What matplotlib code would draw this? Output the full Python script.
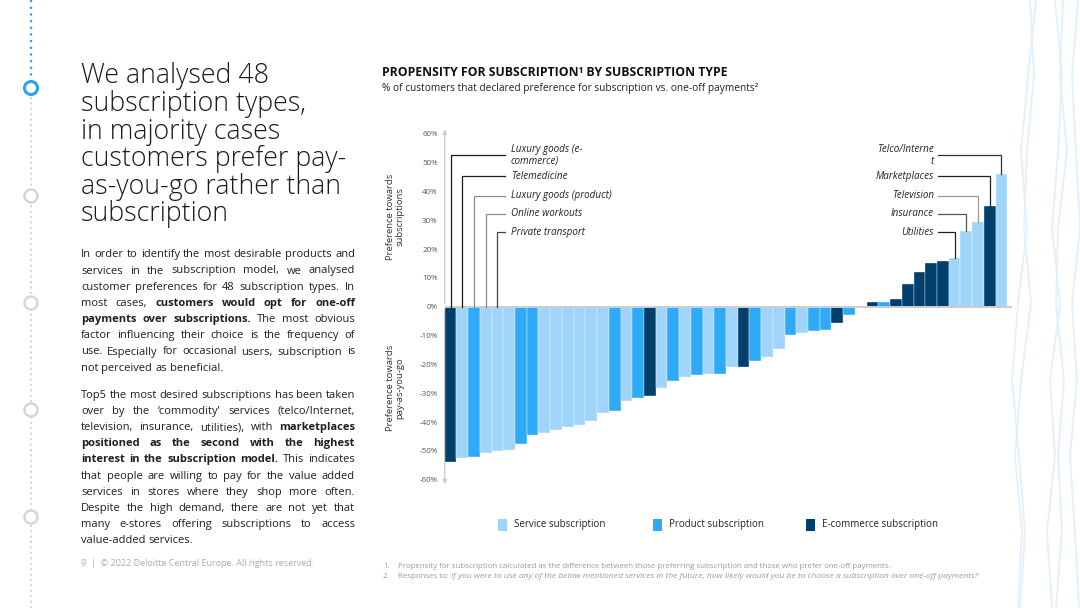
import matplotlib
matplotlib.use("Agg")
import matplotlib.pyplot as plt
from matplotlib.patches import Rectangle, Circle

# ---------------- data ----------------
values = [-54.0, -52.6, -52.2, -50.6, -50.1, -49.7, -47.5, -44.5, -43.9, -42.6,
          -41.8, -41.2, -39.5, -36.8, -36.1, -32.7, -31.5, -31.0, -28.2, -25.8,
          -24.5, -23.7, -23.5, -23.3, -21.0, -20.9, -19.0, -17.6, -14.8, -9.7,
          -9.0, -8.4, -8.1, -5.8, -2.9, 0.0, 1.5, 1.6, 2.6, 7.8,
          11.9, 15.0, 15.8, 16.8, 26.3, 29.3, 35.1, 46.0]
types = ["E", "S", "P", "S", "S", "S", "P", "P", "S", "S",
         "S", "S", "S", "S", "P", "S", "P", "E", "S", "P",
         "S", "P", "S", "P", "S", "E", "P", "S", "S", "P",
         "S", "P", "P", "E", "P", "S", "E", "P", "E", "E",
         "E", "E", "E", "S", "S", "S", "E", "S"]
categories = ["S", "P", "E"]
category_names = ["Service subscription", "Product subscription", "E-commerce subscription"]
yticks = [-60, -50, -40, -30, -20, -10, 0, 10, 20, 30, 40, 50, 60]
ytick_labels = [f"{t}%" for t in yticks]

left_labels = ["Luxury goods (e-\ncommerce)", "Telemedicine", "Luxury goods (product)",
               "Online workouts", "Private transport"]
left_idx = [0, 1, 2, 3, 4]
right_labels = ["Telco/Interne\nt", "Marketplaces", "Television", "Insurance", "Utilities"]
right_idx = [47, 46, 45, 44, 43]

# ---------------- style ----------------
colors = {"S": "#9fd5fb", "P": "#2eaaf7", "E": "#013f6d"}
W, H = 1080, 608
FONT = "Open Sans"
plt.rcParams["font.family"] = [FONT, "DejaVu Sans"]

fig = plt.figure(figsize=(W / 100, H / 100), dpi=100)
fig.patch.set_facecolor("white")
renderer = fig.canvas.get_renderer()


def fx(x):
    return x / W


def fy(y):
    return 1 - y / H


# ---------------- chart axes ----------------
px_per_unit = 2.883
y0 = 306.7
ymax, ymin = 62, -62
top_px = y0 - ymax * px_per_unit
bot_px = y0 - ymin * px_per_unit
bar_w_px = 11.72
left_px = 444.7
xmax = 47.9
right_px = left_px + (xmax + 0.5) * bar_w_px
ax = fig.add_axes([fx(left_px), fy(bot_px), (right_px - left_px) / W, (bot_px - top_px) / H])
ax.set_xlim(-0.5, xmax)
ax.set_ylim(ymin, ymax)
ax.patch.set_alpha(0)
for s in ax.spines.values():
    s.set_visible(False)

xs = list(range(len(values)))
ax.bar(xs, values, width=1.0, color=[colors[t] for t in types],
       edgecolor="white", linewidth=0.25, zorder=2)
ax.axhline(0, color="#cccccc", lw=1.4, zorder=3)

ax.set_yticks(yticks)
ax.set_yticklabels(ytick_labels, fontsize=5.8, color="#555555")
ax.tick_params(axis="y", length=0, pad=5)
ax.set_xticks([])

# y axis with arrows
for tip in (62.5, -62.5):
    ax.annotate("", xy=(-0.5, tip), xytext=(-0.5, 0),
                arrowprops=dict(arrowstyle="-|>", color="#cccccc", lw=1.0, mutation_scale=6),
                annotation_clip=False, zorder=1)


def px2x(px):
    return (px - left_px) / bar_w_px - 0.5


# leader labels
levels = [52.5, 45.3, 38.5, 32.2, 25.8]
left_line_colors = ["#1a1a1a", "#1a1a1a", "#8c8c8c", "#8c8c8c", "#444444"]
right_line_colors = ["#333333", "#222222", "#999999", "#555555", "#222222"]
for lab, i, lev, c in zip(left_labels, left_idx, levels, left_line_colors):
    v = values[i]
    base = 0 if v < 0 else v
    ax.plot([i, i, px2x(505)], [base, lev, lev], color=c, lw=0.9, zorder=4,
            solid_joinstyle="miter", clip_on=False)
    ax.text(px2x(511), lev, lab, ha="left", va="center", fontsize=7.1, style="italic",
            color="#222222", linespacing=1.05, family=FONT)
for lab, i, lev, c in zip(right_labels, right_idx, levels, right_line_colors):
    v = values[i]
    base = 0 if v < 0 else v
    ax.plot([px2x(938), i, i], [lev, lev, base], color=c, lw=0.9, zorder=4,
            solid_joinstyle="miter", clip_on=False)
    ax.text(px2x(934), lev, lab, ha="right", va="center", fontsize=7.1, style="italic",
            color="#222222", linespacing=1.05, family=FONT, multialignment="right")

# y-axis side labels
fig.text(fx(395), fy(217), "Preference towards\nsubscriptions", rotation=90, ha="center",
         va="center", fontsize=6.8, color="#333333", linespacing=1.1, multialignment="center")
fig.text(fx(395), fy(388), "Preference towards\npay-as-you-go", rotation=90, ha="center",
         va="center", fontsize=6.8, color="#333333", linespacing=1.1, multialignment="center")

# title / subtitle
fig.text(fx(382.5), fy(75.7), "PROPENSITY FOR SUBSCRIPTION\u00b9 BY SUBSCRIPTION TYPE",
         fontsize=8.8, fontweight="bold", color="#111111", va="baseline")
fig.text(fx(382.5), fy(91.5),
         "% of customers that declared preference for subscription vs. one-off payments\u00b2",
         fontsize=7.25, color="#222222", va="baseline")

# legend
leg_x = [498, 653, 806]
for cat, name, lx in zip(categories, category_names, leg_x):
    fig.patches.append(Rectangle((fx(lx), fy(531)), 9 / W, 12 / H, transform=fig.transFigure,
                                 facecolor=colors[cat], edgecolor="none"))
    fig.text(fx(lx + 16), fy(525), name, fontsize=7, color="#222222", va="center")

# footnotes
FN = 5.7
fig.text(fx(383), fy(567.5), "1.", fontsize=FN, color="#9a9a9a", va="baseline")
fig.text(fx(398), fy(567.5),
         "Propensity for subscription calculated as the difference between those preferring subscription and those who prefer one-off payments.",
         fontsize=FN, color="#9a9a9a", va="baseline")
fig.text(fx(383), fy(578.5), "2.", fontsize=FN, color="#9a9a9a", va="baseline")
t1 = fig.text(fx(398), fy(578.5), "Responses to: ", fontsize=FN, color="#9a9a9a", va="baseline")
w1 = t1.get_window_extent(renderer).width
fig.text(fx(398 + w1), fy(578.5),
         "If you were to use any of the below mentioned services in the future, how likely would you be to choose a subscription over one-off payments?",
         fontsize=6.1, color="#9a9a9a", va="baseline", style="italic")

# ---------------- left text panel ----------------
headline = ["We analysed 48", "subscription types,", "in majority cases",
            "customers prefer pay-", "as-you-go rather than", "subscription"]
for k, line in enumerate(headline):
    fig.text(fx(81), fy(83.5 + k * 27.6), line, fontsize=19.3, fontweight=300,
             color="#1a1a1a", va="baseline")

para1 = ["In order to identify the most desirable products and",
         "services in the subscription model, we analysed",
         "customer preferences for 48 subscription types. In",
         "most cases, **customers would opt for one-off**",
         "**payments over subscriptions.** The most obvious",
         "factor influencing their choice is the frequency of",
         "use. Especially for occasional users, subscription is",
         "not perceived as beneficial."]
para2 = ["Top5 the most desired subscriptions has been taken",
         "over by the \u2018commodity\u2019 services (telco/Internet,",
         "television, insurance, utilities), with **marketplaces**",
         "**positioned as the second with the highest**",
         "**interest in the subscription model.** This indicates",
         "that people are willing to pay for the value added",
         "services in stores where they shop more often.",
         "Despite the high demand, there are not yet that",
         "many e-stores offering subscriptions to access",
         "value-added services."]

# fit body font so a naturally-spaced line fills the column
probe = fig.text(0, 0, "Top5 the most desired subscriptions has been taken", fontsize=10)
pw = probe.get_window_extent(renderer).width
probe.remove()
BODY_FS = 10 * 272 / pw


def tokens(line):
    out = []
    segs = line.split("**")
    for j, seg in enumerate(segs):
        for w in seg.split():
            out.append((w, j % 2 == 1))
    return out


ta = fig.text(0, 0, "x x", fontsize=BODY_FS)
tb = fig.text(0, 0, "xx", fontsize=BODY_FS)
space_w = ta.get_window_extent(renderer).width - tb.get_window_extent(renderer).width
ta.remove()
tb.remove()


def justify(lines, base0, step, x0=81, x1=355):
    for k, line in enumerate(lines):
        toks = tokens(line)
        last = k == len(lines) - 1
        texts = [fig.text(0, 0, w, fontsize=BODY_FS, color="#1f1f1f",
                          fontweight="bold" if b else "normal", va="baseline")
                 for w, b in toks]
        widths = [t.get_window_extent(renderer).width for t in texts]
        if last or len(texts) < 2:
            gap = space_w
        else:
            gap = (x1 - x0 - sum(widths)) / (len(texts) - 1)
        x = x0
        yb = base0 + k * step
        for t, w in zip(texts, widths):
            t.set_position((fx(x), fy(yb)))
            x += w + gap


justify(para1, 257.3, 16.2)
justify(para2, 397.7, 16.18)

fig.text(fx(81), fy(565.5), "9  |  \u00a9 2022 Deloitte Central Europe. All rights reserved.",
         fontsize=6.45, color="#ababab", va="baseline")

# ---------------- decorations ----------------
deco = fig.add_axes([0, 0, 1, 1], zorder=-1)
deco.set_xlim(0, W)
deco.set_ylim(H, 0)
deco.axis("off")
deco.plot([31, 31], [0, 79], color="#2f9ff2", lw=1.6, ls=(0, (1, 2)), zorder=1)
deco.plot([31, 31], [97, 608], color="#cfcfcf", lw=1.3, ls=(0, (1, 2)), zorder=1)
deco.add_patch(Circle((31, 88), 6.5, facecolor="white", edgecolor="#2f9ff2", lw=2.2, zorder=3))
for cy in [196, 303, 410, 517]:
    deco.add_patch(Circle((31, cy), 6.5, facecolor="white", edgecolor="#d6d6d6", lw=1.8, zorder=3))

wave_y = [0, 76, 152, 228, 304, 380, 456, 532, 608]
waves = [[1030, 1034, 1027, 1024, 1031, 1021, 1015, 1022, 1018],
         [1036, 1028, 1021, 1027, 1018, 1012, 1019, 1025, 1020],
         [1055, 1062, 1058, 1052, 1060, 1050, 1055, 1047, 1052],
         [1063, 1060, 1067, 1058, 1056, 1064, 1058, 1062, 1056],
         [1078, 1072, 1076, 1080, 1072, 1077, 1070, 1075, 1079]]
for wx in waves:
    deco.plot(wx, wave_y, color="#e2f0fc", lw=1.3, zorder=1)

fig.savefig("out.png", dpi=100, facecolor="white")
